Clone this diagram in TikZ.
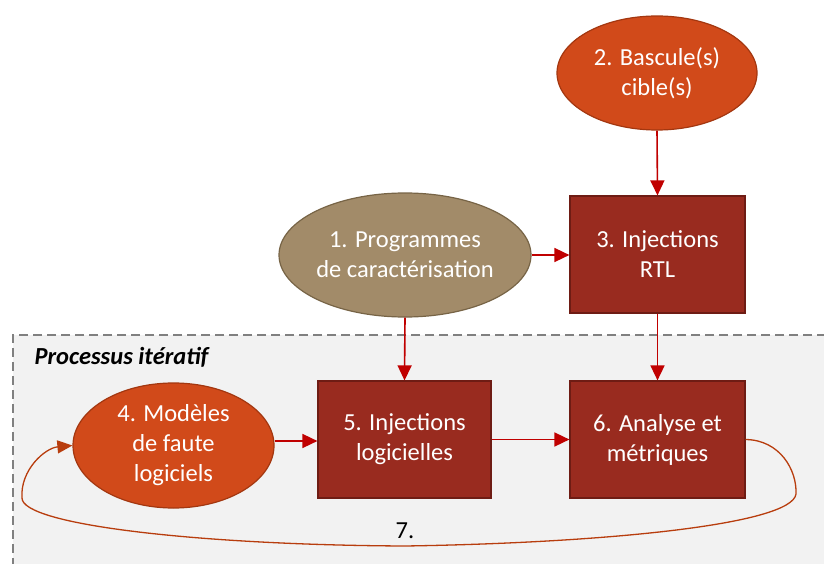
\documentclass[tikz,border=0pt]{standalone}
\usepackage{fontspec}
\setmainfont{Carlito}
\usetikzlibrary{shapes.geometric,arrows.meta}
\definecolor{boxfill}{HTML}{992B1F}
\definecolor{boxline}{HTML}{6E1C14}
\definecolor{orfill}{HTML}{D14A1A}
\definecolor{orline}{HTML}{A33710}
\definecolor{tanfill}{HTML}{A28B69}
\definecolor{tanline}{HTML}{776446}
\definecolor{arr}{HTML}{C00000}
\definecolor{loopc}{HTML}{B83D0E}
\definecolor{regfill}{HTML}{F2F2F2}
\definecolor{regline}{HTML}{808080}
\tikzset{
  lbl/.style={text=white,font=\fontsize{24.5}{30}\selectfont,align=center},
  stepbox/.style={lbl,rectangle,fill=boxfill,draw=boxline,line width=1.2pt,minimum width=175pt,minimum height=117pt,inner sep=0pt},
  orell/.style={lbl,ellipse,fill=orfill,draw=orline,line width=1.2pt,inner sep=0pt},
  tanell/.style={lbl,ellipse,fill=tanfill,draw=tanline,line width=1.2pt,inner sep=0pt},
  redarrow/.style={draw=arr,line width=1.6pt,-{Triangle[length=15pt,width=14pt]}},
  looparrow/.style={draw=loopc,line width=1.3pt,-{Triangle[length=15pt,width=13pt]}}
}
\begin{document}
\begin{tikzpicture}[x=1pt,y=-1pt]
\useasboundingbox (0,0) rectangle (824,564);
\clip (0,0) rectangle (824,564);
% iterative region
\fill[regfill] (13,335) rectangle (840,580);
\draw[regline,line width=1.8pt,dash pattern=on 9pt off 5pt] (840,335) -- (13,335) -- (13,580);
\node[anchor=west,font=\fontsize{24.5}{28}\selectfont\bfseries\itshape] (title) at (31,357) {Processus itératif};
% nodes
\node[orell,minimum width=200pt,minimum height=114pt] (n2) at (657,73) {2. Bascule(s)\\cible(s)};
\node[stepbox] (n3) at (657.5,254.5) {3. Injections\\RTL};
\node[tanell,minimum width=252pt,minimum height=124pt] (n1) at (405,255) {1. Programmes\\de caractérisation};
\node[stepbox,minimum width=173pt] (n5) at (404.5,439.5) {5. Injections\\logicielles};
\node[stepbox] (n6) at (657.5,439.5) {6. Analyse et\\métriques};
\node[orell,minimum width=201pt,minimum height=125pt] (n4) at (173.5,445.5) {4. Modèles\\de faute\\logiciels};
% arrows
\draw[redarrow] (n2.south) -- (n3.north);
\draw[redarrow] (n1.east) -- (n3.west |- n1.east);
\draw[redarrow] (n1.south) -- (n5.north);
\draw[redarrow] (n3.south) -- (n6.north);
\draw[redarrow] (n4.east |- 0,441) -- (n5.west |- 0,441);
\draw[redarrow] (n5.east) -- (n6.west);
% loop
\coordinate (lr) at (796,494);
\coordinate (lb) at (405,546);
\coordinate (ll) at (22,498);
\draw[looparrow] (n6.east) .. controls (780,440) and (797,470) .. (lr)
  .. controls (792,525) and (600,543) .. (lb)
  .. controls (200,545) and (22,525) .. (ll)
  .. controls (20,470) and (45,448) .. (n4.west);
\node[font=\fontsize{24.5}{28}\selectfont] (seven) at (405,531) {7.};
\end{tikzpicture}
\end{document}
